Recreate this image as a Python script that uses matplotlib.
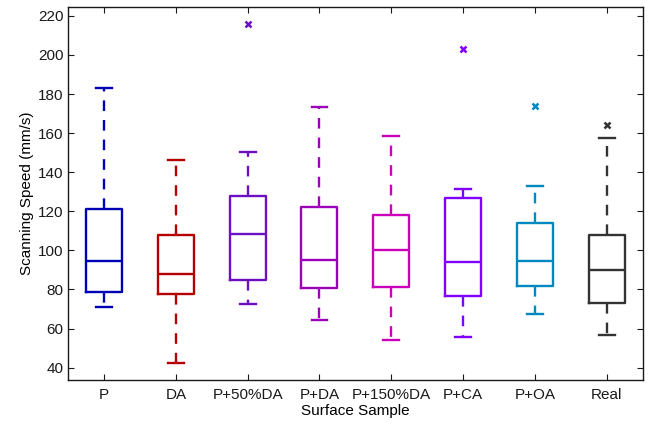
import numpy as np
import matplotlib
matplotlib.use("Agg")
from matplotlib import pyplot as plt

plt.rcParams['font.family'] = ['Liberation Sans', 'DejaVu Sans']

samples = ['P', 'DA', 'P+50%DA', 'P+DA', 'P+150%DA', 'P+CA', 'P+OA', 'Real']
whislo = [71.1, 42.6, 72.6, 64.6, 54.4, 55.6, 67.6, 56.6]
q1 = [78.9, 77.6, 84.9, 80.8, 81.1, 76.7, 81.8, 73.0]
med = [94.6, 88.0, 108.3, 95.3, 100.4, 94.0, 94.6, 90.0]
q3 = [121.1, 108.1, 128.0, 122.3, 118.3, 126.7, 113.9, 108.1]
whishi = [183.3, 146.3, 150.2, 173.6, 158.6, 131.3, 133.0, 157.4]
outliers = [[], [], [215.7], [], [], [202.9], [174.0], [164.2]]
colors = ['#0000b4', '#b40000', '#6c10c4', '#9c00b8', '#cc00b8', '#8000ff', '#0088c0', '#333333']

stats = []
for i in range(len(samples)):
    stats.append(dict(label=samples[i], whislo=whislo[i], q1=q1[i], med=med[i],
                      q3=q3[i], whishi=whishi[i], fliers=outliers[i]))

fig = plt.figure(figsize=(6.49, 4.26), dpi=100)
ax = fig.add_axes([0.105, 0.108, 0.885, 0.876])

for i, s in enumerate(stats):
    c = colors[i]
    ax.bxp([s], positions=[i + 1], widths=0.5, showfliers=True,
           boxprops=dict(color=c, linewidth=1.7),
           medianprops=dict(color=c, linewidth=1.7),
           whiskerprops=dict(color=c, linewidth=1.7, linestyle=(0, (4.5, 3.8))),
           capprops=dict(color=c, linewidth=1.7),
           flierprops=dict(marker='x', markeredgecolor=c, markersize=4.5,
                           markeredgewidth=1.8, linestyle='none'),
           capwidths=0.22)

ax.set_xlim(0.5, 8.5)
ax.set_ylim(33.7, 224.6)
ax.set_yticks(np.arange(40, 221, 20))
ax.set_xticks(np.arange(1, 9))
ax.set_xticklabels(samples)
ax.tick_params(direction='in', length=4, width=0.8, top=True, right=True,
               labelsize=11, colors='#1a1a1a')
ax.tick_params(axis='x', pad=6)
for sp in ax.spines.values():
    sp.set_linewidth(1.0)
    sp.set_color('#1a1a1a')
ax.set_xlabel('Surface Sample', fontsize=11, labelpad=1)
ax.set_ylabel('Scanning Speed (mm/s)', fontsize=11, labelpad=3)

fig.savefig('out.png', dpi=100)
